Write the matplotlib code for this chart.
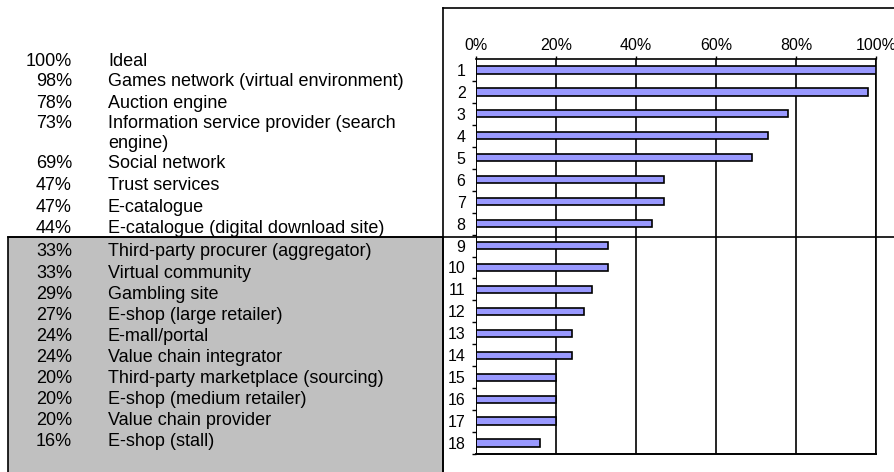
import matplotlib
matplotlib.use("Agg")
import matplotlib.pyplot as plt
from matplotlib.patches import Rectangle
from matplotlib.lines import Line2D
from matplotlib.ticker import FixedLocator

plt.rcParams['font.family'] = ['Liberation Sans', 'DejaVu Sans']

# data
ranks = [str(i) for i in range(1, 19)]
values = [100, 98, 78, 73, 69, 47, 47, 44, 33, 33, 29, 27, 24, 24, 20, 20, 20, 16]
names = ["Ideal",
         "Games network (virtual environment)",
         "Auction engine",
         "Information service provider (search\nengine)",
         "Social network",
         "Trust services",
         "E-catalogue",
         "E-catalogue (digital download site)",
         "Third-party procurer (aggregator)",
         "Virtual community",
         "Gambling site",
         "E-shop (large retailer)",
         "E-mall/portal",
         "Value chain integrator",
         "Third-party marketplace (sourcing)",
         "E-shop (medium retailer)",
         "Value chain provider",
         "E-shop (stall)"]
x_ticks = [0, 20, 40, 60, 80, 100]

W, H = 895, 472
fig = plt.figure(figsize=(W / 100, H / 100), dpi=100)

def fx(px):
    return px / W

def fy(py):
    return 1 - py / H

# grey box for the lower group
fig.patches.append(Rectangle((fx(8), fy(480)), fx(443) - fx(8), fy(237) - fy(480),
                             transform=fig.transFigure, facecolor='#C0C0C0',
                             edgecolor='black', linewidth=1.2, zorder=0))
# frame lines
for xs, ys in [((8, 895), (237, 237)), ((443, 443), (8, 480)), ((443, 895), (8, 8))]:
    fig.lines.append(Line2D([fx(xs[0]), fx(xs[1])], [fy(ys[0]), fy(ys[1])],
                            transform=fig.transFigure, color='black', linewidth=1.2))

# left list
fs = 13
ypos = [61, 82, 103, 123, 164, 185, 207, 229]
ypos += [252 + 21.1 * j for j in range(10)]
for i, (v, n) in enumerate(zip(values, names)):
    y = ypos[i]
    fig.text(fx(72), fy(y), f"{v}%", ha='right', va='center', fontsize=fs)
    lines = n.split('\n')
    fig.text(fx(108), fy(y), lines[0], ha='left', va='center', fontsize=fs)
    if len(lines) > 1:
        fig.text(fx(108), fy(143), lines[1], ha='left', va='center', fontsize=fs)

# bar chart
ax = fig.add_axes([fx(476), fy(454), fx(876) - fx(476), fy(59) - fy(454)])
pos = list(range(len(values)))
ax.barh(pos, values, height=0.33, color='#9999FF', edgecolor='black', linewidth=1.2, zorder=3)
ax.set_xlim(0, 100)
ax.set_ylim(len(values) - 0.5, -0.5)
ax.set_xticks(x_ticks)
ax.set_xticklabels([f"{t}%" for t in x_ticks], fontsize=11.5)
ax.xaxis.tick_top()
ax.tick_params(axis='x', length=2, pad=2.5, width=1)
ax.set_yticks(pos)
ax.set_yticklabels(ranks, fontsize=11.5)
ax.tick_params(axis='y', which='major', length=0, pad=7.5)
ax.yaxis.set_minor_locator(FixedLocator([p + 0.5 for p in pos]))
ax.tick_params(axis='y', which='minor', length=3, width=1)
ax.grid(axis='x', color='black', linewidth=1.2, zorder=1)
for s in ['left', 'bottom', 'top', 'right']:
    ax.spines[s].set_linewidth(1.2)
ax.spines['left'].set_visible(False)
ax.axvline(0, color='black', linewidth=1.2, zorder=4)
ax.axhline(len(values) - 0.5, color='black', linewidth=1.2, zorder=5, clip_on=False)
ax.set_facecolor('white')

fig.savefig("out.png", dpi=100)
